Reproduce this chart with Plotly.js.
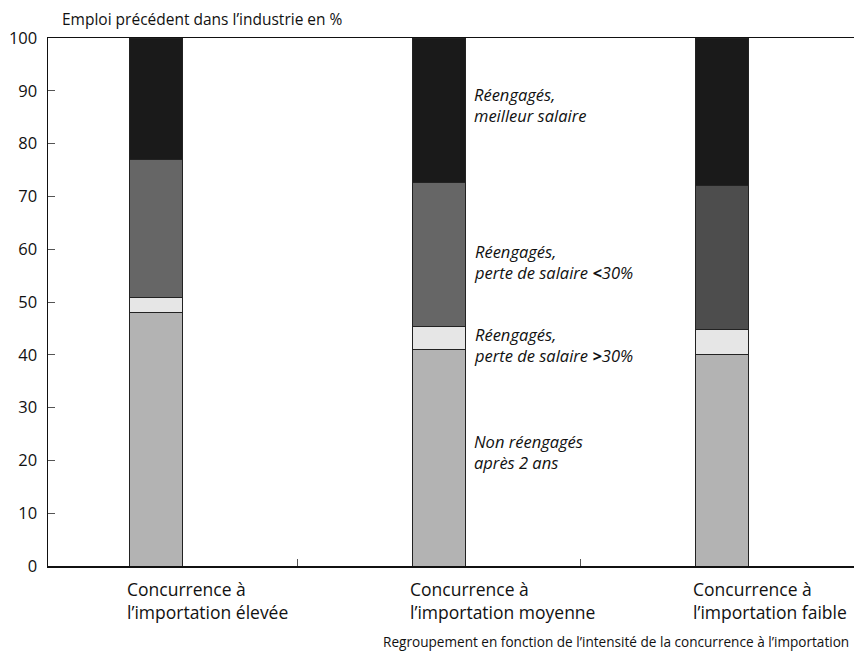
<!DOCTYPE html>
<html><head><meta charset="utf-8">
<script src="https://cdn.plot.ly/plotly-3.0.1.min.js"></script>
<style>html,body{margin:0;padding:0;background:#fff}</style>
</head><body>
<div id="chart" style="width:854px;height:654px"></div>
<script>
const categories = ["Concurrence à<br>l’importation élevée", "Concurrence à<br>l’importation moyenne", "Concurrence à<br>l’importation faible"];
const seriesNames = ["Non réengagés<br>après 2 ans", "Réengagés,<br>perte de salaire <b>></b>30%", "Réengagés,<br>perte de salaire <b><</b>30%", "Réengagés,<br>meilleur salaire"];
const nonReengages = [48, 41, 40];
const perteSup30 = [2.8, 4.3, 4.7];
const perteInf30 = [26.2, 27.4, 27.3];
const meilleurSalaire = [23, 27.3, 28];
const labelYs = [21.6, 41.9, 57.6, 87.3];
const yTicks = [0, 10, 20, 30, 40, 50, 60, 70, 80, 90, 100];

const FONT = "'Open Sans', Lato, sans-serif";
const idx = [0, 1, 2];
const line = {color: "#222", width: 1};
const w = 0.19;
const traces = [
  {type: "bar", x: idx, y: nonReengages, width: w, marker: {color: "#b3b3b3", line}},
  {type: "bar", x: idx, y: perteSup30, width: w, marker: {color: "#e6e6e6", line}},
  {type: "bar", x: idx, y: perteInf30, width: w, marker: {color: ["#666666", "#666666", "#4d4d4d"], line}},
  {type: "bar", x: idx, y: meilleurSalaire, width: w, marker: {color: "#1a1a1a", line}}
];

const annotations = [];
categories.forEach((c, i) => annotations.push({
  x: i, xref: "x", y: 0, yref: "y", text: c, showarrow: false,
  xanchor: "left", yanchor: "middle", align: "left", xshift: -31, yshift: -34,
  font: {family: FONT, size: 17.5, color: "#111"}
}));
seriesNames.forEach((s, k) => annotations.push({
  x: 1, xref: "x", y: labelYs[k], yref: "y", text: "<i>" + s + "</i>", showarrow: false,
  xanchor: "left", yanchor: "middle", align: "left", xshift: 33,
  font: {family: FONT, size: 16.5, color: "#111"}
}));
annotations.push({
  xref: "paper", x: 0.0, yref: "paper", y: 1, text: "Emploi précédent dans l’industrie en %",
  showarrow: false, xanchor: "left", yanchor: "bottom", xshift: 12, yshift: 6,
  font: {family: FONT, size: 15.5, color: "#111"}
});
annotations.push({
  xref: "paper", x: 1, yref: "paper", y: 0, text: "Regroupement en fonction de l’intensité de la concurrence à l’importation",
  showarrow: false, xanchor: "right", yanchor: "top", xshift: -3, yshift: -64,
  font: {family: FONT, size: 13.6, color: "#111"}
});

const layout = {
  width: 854, height: 654,
  margin: {l: 48, r: 0, t: 38, b: 88},
  paper_bgcolor: "#fff", plot_bgcolor: "#fff",
  barmode: "stack", showlegend: false,
  font: {family: FONT, size: 16, color: "#111"},
  xaxis: {
    range: [-0.382, 2.467], tickvals: [], showgrid: false, zeroline: false,
    showline: true, linecolor: "#111", linewidth: 1.5, mirror: true,
    minor: {tickmode: "array", tickvals: [0.5, 1.5], ticks: "inside", ticklen: 7, tickcolor: "#555", tickwidth: 1}
  },
  yaxis: {
    range: [0, 100], tickvals: yTicks, showgrid: false, zeroline: false,
    showline: true, linecolor: "#111", linewidth: 1.5,
    ticks: "inside", ticklen: 7, tickcolor: "#555", tickwidth: 1,
    tickfont: {family: FONT, size: 16.5, color: "#111"}, ticklabelstandoff: 6
  },
  annotations
};
Plotly.newPlot("chart", traces, layout, {displayModeBar: false, staticPlot: true});
</script>
</body></html>
